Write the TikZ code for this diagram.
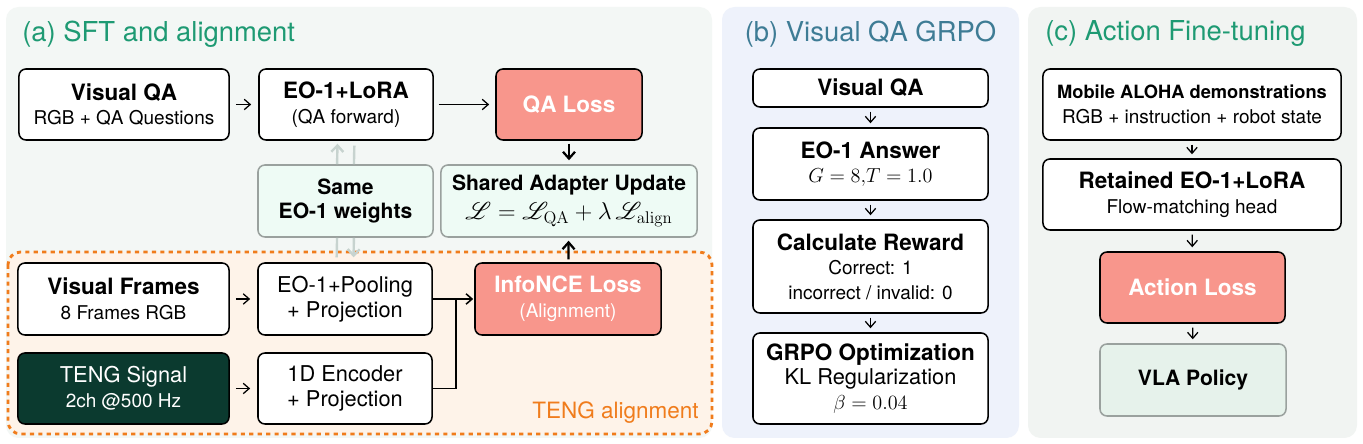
\documentclass[tikz,border=0pt]{standalone}
\usepackage{amsmath}
\usepackage{mathrsfs}
\usepackage[no-math]{fontspec}
\setmainfont{TeX Gyre Heros}
\usetikzlibrary{positioning,arrows.meta}
\definecolor{panelmint}{HTML}{F3F7F5}
\definecolor{panelblue}{HTML}{EEF2FB}
\definecolor{panelgray}{HTML}{F1F4F2}
\definecolor{titlegreen}{HTML}{1E9A73}
\definecolor{titleblue}{HTML}{3E7C95}
\definecolor{lossred}{HTML}{F8968C}
\definecolor{tengdark}{HTML}{0B3A2F}
\definecolor{sharemint}{HTML}{EEFBF5}
\definecolor{policymint}{HTML}{E6F2EB}
\definecolor{boxgray}{HTML}{9AA19E}
\definecolor{weightgray}{HTML}{C7D3CF}
\definecolor{tengorange}{HTML}{F07C1C}
\definecolor{tengfill}{HTML}{FEF3E9}
\tikzset{
  flowarrow/.style={-{Straight Barb[length=1.5mm,width=2.6mm]}, line width=0.9pt},
  boldarrow/.style={-{Straight Barb[length=1.7mm,width=3mm]}, line width=1.6pt},
  weightline/.style={line width=1.7pt, draw=weightgray},
  weightarrow/.style={weightline, -{Straight Barb[length=1.6mm,width=3mm]}},
  stepbox/.style={draw, rounded corners=5pt, line width=1.1pt, fill=white, align=center, inner sep=2pt, font=\fontsize{13.5}{17.5}\selectfont},
  lossbox/.style={stepbox, fill=lossred, text=white},
  sharebox/.style={stepbox, draw=boxgray, fill=sharemint},
  tengbox/.style={stepbox, fill=tengdark, text=white},
  policybox/.style={stepbox, draw=boxgray, fill=policymint},
  paneltitle/.style={font=\fontsize{19.5}{22}\selectfont}
}
\newcommand{\boxhead}[1]{{\bfseries\fontsize{16}{17.5}\selectfont #1}}
\newcommand{\boxbig}[1]{{\fontsize{15.5}{17.5}\selectfont #1}}

\begin{document}
\begin{tikzpicture}[x=0.025cm, y=-0.025cm]
  \useasboundingbox[fill=white] (0,0) rectangle (1363,444);
  % panels
  \fill[panelmint, rounded corners=9pt] (6,7) rectangle (712,438);
  \fill[panelblue, rounded corners=9pt] (722,7) rectangle (1019,438);
  \fill[panelgray, rounded corners=9pt] (1028,7) rectangle (1357,438);
  \draw[tengorange, fill=tengfill, line width=2pt, dash pattern=on 3pt off 3pt, rounded corners=9pt] (8,252) rectangle (712,434);
  \node[paneltitle, text=titlegreen, anchor=west, inner sep=0pt] (titlea) at (22,34) {(a) SFT and alignment};
  \node[paneltitle, text=titleblue, inner sep=0pt] (titleb) at (870.5,34) {(b) Visual QA GRPO};
  \node[paneltitle, text=titlegreen, anchor=west, inner sep=0pt] (titlec) at (1045,34) {(c) Action Fine-tuning};
  \node[text=tengorange, anchor=east, font=\fontsize{16}{18}\selectfont, inner sep=0pt] (tenglabel) at (699,413) {TENG alignment};

  % (a) SFT and alignment
  \node[stepbox, minimum width=5.25cm, minimum height=1.775cm] (vqa) at (124,104.5) {\boxhead{Visual QA}\\RGB + QA Questions};
  \node[stepbox, minimum width=4.35cm, minimum height=1.775cm] (lora) at (346,104.5) {\boxhead{EO-1+LoRA}\\(QA forward)};
  \node[lossbox, minimum width=3.65cm, minimum height=1.775cm] (qaloss) at (569,104.5) {\boxhead{QA Loss}};
  \node[sharebox, minimum width=4.375cm, minimum height=1.8cm] (same) at (345.5,201) {\bfseries\fontsize{15}{17.5}\selectfont Same\\\bfseries\fontsize{15}{17.5}\selectfont EO-1 weights};
  \node[sharebox, minimum width=6.4cm, minimum height=1.8cm] (shared) at (569,201) {{\bfseries\fontsize{15}{17.5}\selectfont Shared Adapter Update}\\[3pt]{\fontsize{16.5}{17.5}\selectfont $\mathscr{L}=\mathscr{L}_{\mathrm{QA}}+\lambda\,\mathscr{L}_{\mathrm{align}}$}};
  \node[stepbox, minimum width=5.275cm, minimum height=1.8cm] (frames) at (123.5,299) {\boxhead{Visual Frames}\\8 Frames RGB};
  \node[stepbox, minimum width=4.35cm, minimum height=1.8cm] (pooling) at (345,299) {\boxbig{EO-1+Pooling}\\\boxbig{+ Projection}};
  \node[tengbox, minimum width=5.275cm, minimum height=1.775cm] (teng) at (123.5,388.5) {\boxbig{TENG Signal}\\2ch @500 Hz};
  \node[stepbox, minimum width=4.35cm, minimum height=1.775cm] (encoder) at (345,388.5) {\boxbig{1D Encoder}\\\boxbig{+ Projection}};
  \node[lossbox, minimum width=4.65cm, minimum height=1.8cm] (infonce) at (568,299) {\boxhead{InfoNCE Loss}\\(Alignment)};
  \coordinate (merge) at (456,299);

  \draw[flowarrow, shorten <=4.3pt, shorten >=5pt] (vqa) -- (lora);
  \draw[flowarrow, shorten <=3.5pt, shorten >=4.3pt] (lora) -- (qaloss);
  \draw[boldarrow, shorten <=2.1pt, shorten >=2.8pt] (qaloss) -- (shared);
  \draw[boldarrow, shorten <=2.1pt, shorten >=2.1pt] (infonce) -- (shared);
  \draw[flowarrow, shorten <=4.3pt, shorten >=5pt] (frames) -- (pooling);
  \draw[flowarrow, shorten <=4.3pt, shorten >=5pt] (teng) -- (encoder);
  \draw[flowarrow, line width=1.1pt, shorten >=0.7pt] (pooling.east) -- (merge) -- (infonce.west);
  \draw[line width=1.1pt] (encoder.east) -| (merge);
  \draw[weightarrow, shorten >=2.1pt] ([xshift=-6pt]same.north) -- ([xshift=-6pt]lora.south);
  \draw[weightline, shorten <=3.5pt] ([xshift=6pt]lora.south) -- ([xshift=6pt]same.north);
  \draw[weightline, shorten >=3.5pt] ([xshift=-6pt]same.south) -- ([xshift=-6pt]pooling.north);
  \draw[weightarrow, shorten >=3.5pt] ([xshift=6pt]same.south) -- ([xshift=6pt]pooling.north);

  % (b) Visual QA GRPO
  \node[stepbox, minimum width=5.875cm, minimum height=0.95cm] (bvqa) at (870.5,88) {\boxhead{Visual QA}};
  \node[stepbox, minimum width=5.875cm, minimum height=1.8cm] (banswer) at (870.5,164) {\boxhead{EO-1 Answer}\\$G=8{,}T=1.0$};
  \node[stepbox, minimum width=5.875cm, minimum height=2.325cm] (breward) at (870.5,266.5) {\boxhead{Calculate Reward}\\Correct: 1\\incorrect / invalid: 0};
  \node[stepbox, minimum width=5.875cm, minimum height=2.275cm] (bgrpo) at (870.5,378.5) {\boxhead{GRPO Optimization}\\\boxbig{KL Regularization}\\$\beta=0.04$};
  \draw[flowarrow, shorten <=2.8pt, shorten >=2.8pt] (bvqa) -- (banswer);
  \draw[flowarrow, shorten <=2.8pt, shorten >=2.8pt] (banswer) -- (breward);
  \draw[flowarrow, shorten <=2.8pt, shorten >=2.8pt] (breward) -- (bgrpo);

  % (c) Action Fine-tuning
  \node[stepbox, minimum width=7.45cm, minimum height=1.775cm] (aloha) at (1192,104.5) {{\bfseries\fontsize{13}{17.5}\selectfont Mobile ALOHA demonstrations}\\RGB + instruction + robot state};
  \node[stepbox, minimum width=7.45cm, minimum height=1.775cm] (retained) at (1192,194.5) {\boxhead{Retained EO-1+LoRA}\\Flow-matching head};
  \node[lossbox, minimum width=4.625cm, minimum height=1.775cm] (actloss) at (1192.5,287.5) {\boxhead{Action Loss}};
  \node[policybox, minimum width=4.65cm, minimum height=1.8cm] (vla) at (1193,380) {{\bfseries\fontsize{15}{17.5}\selectfont VLA Policy}};
  \draw[flowarrow, shorten <=2.8pt, shorten >=2.8pt] (aloha) -- (retained);
  \draw[flowarrow, shorten <=2.8pt, shorten >=2.8pt] (retained) -- (actloss);
  \draw[flowarrow, shorten <=2.8pt, shorten >=2.8pt] (actloss) -- (vla);
\end{tikzpicture}
\end{document}
